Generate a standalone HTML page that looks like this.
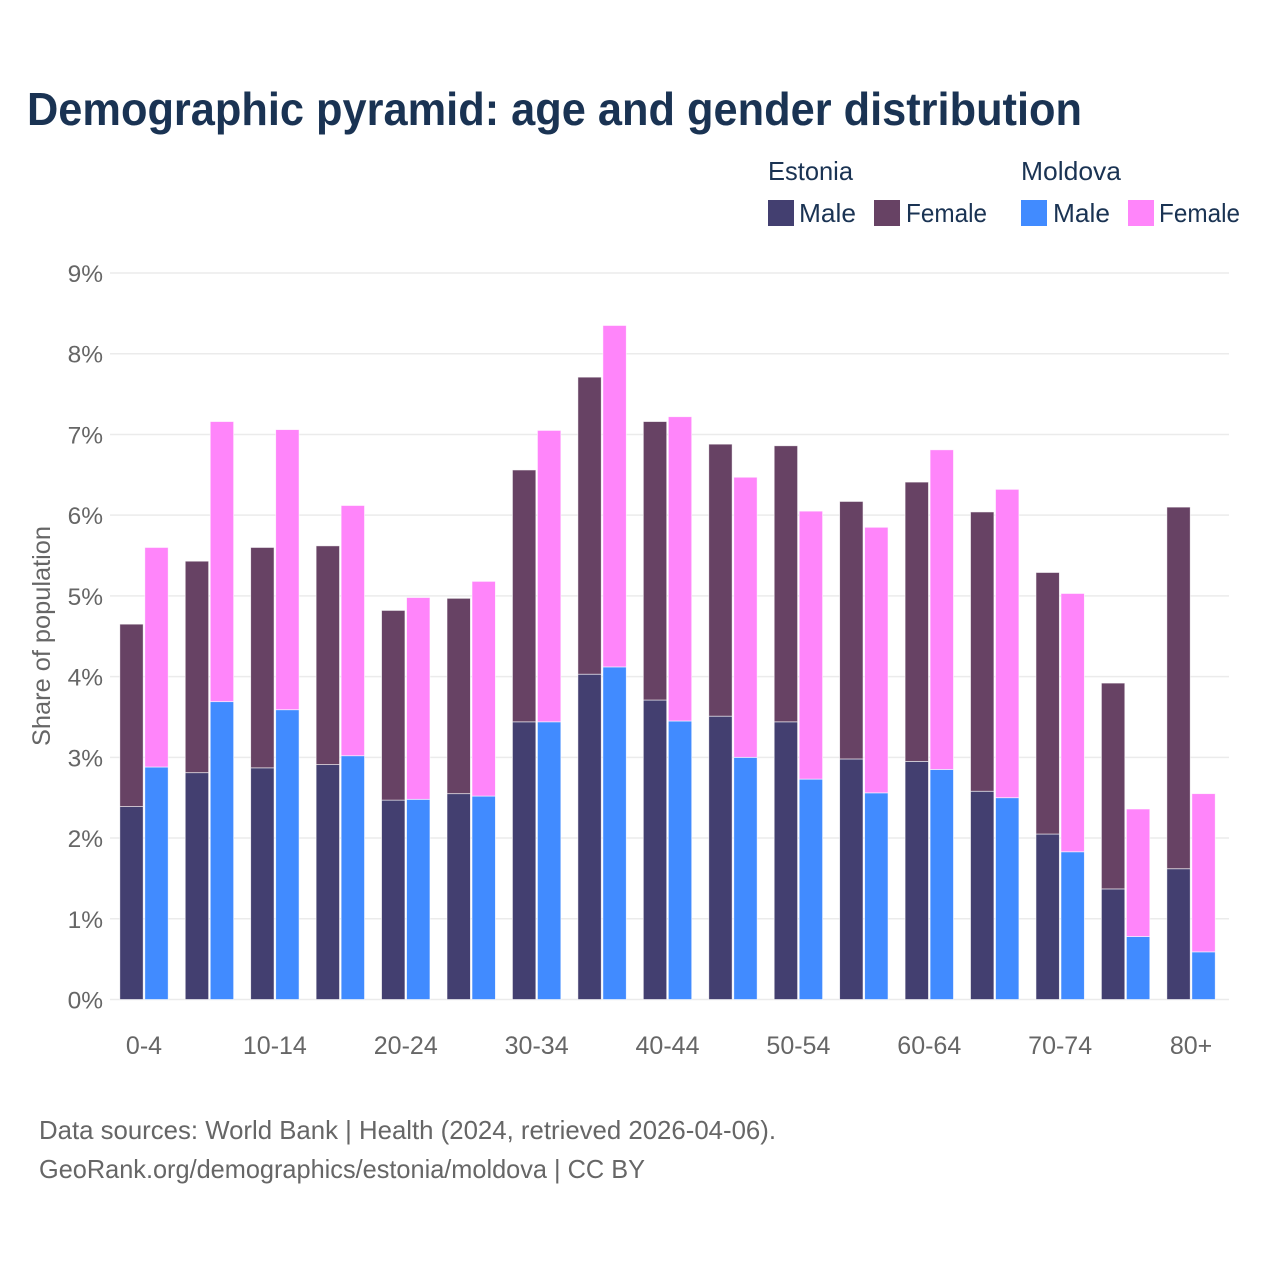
<!DOCTYPE html>
<html lang="en">
<head>
<meta charset="utf-8">
<title>Demographic pyramid</title>
<style>
html,body{margin:0;padding:0;background:#fff;width:1280px;height:1280px;overflow:hidden}
svg{display:block;font-family:"Liberation Sans",sans-serif}
</style>
</head>
<body>
<svg id="chart" width="1280" height="1280" viewBox="0 0 1280 1280" xmlns="http://www.w3.org/2000/svg">
<rect width="1280" height="1280" fill="#fff"/>
<text x="27" y="125" font-size="46" font-weight="700" fill="#1a3353" textLength="1055" lengthAdjust="spacingAndGlyphs">Demographic pyramid: age and gender distribution</text>
<g font-size="26" fill="#1a3353">
<text x="768" y="180" textLength="85" lengthAdjust="spacingAndGlyphs">Estonia</text>
<text x="1021" y="180" textLength="100" lengthAdjust="spacingAndGlyphs">Moldova</text>
<rect x="768" y="200" width="26" height="26" fill="#433f70"/>
<text x="799" y="222" textLength="57" lengthAdjust="spacingAndGlyphs">Male</text>
<rect x="874" y="200" width="26" height="26" fill="#674264"/>
<text x="906" y="222" textLength="81" lengthAdjust="spacingAndGlyphs">Female</text>
<rect x="1021" y="200" width="26" height="26" fill="#418bff"/>
<text x="1053" y="222" textLength="57" lengthAdjust="spacingAndGlyphs">Male</text>
<rect x="1128" y="200" width="26" height="26" fill="#ff85fa"/>
<text x="1159" y="222" textLength="81" lengthAdjust="spacingAndGlyphs">Female</text>
</g>
<g id="grid"></g>
<g id="ylabels"></g>
<g id="bars"></g>
<g id="xlabels"></g>
<text transform="translate(50 636) rotate(-90)" text-anchor="middle" font-size="25" fill="#666" textLength="220" lengthAdjust="spacingAndGlyphs">Share of population</text>
<text x="39" y="1139" font-size="26" fill="#666" textLength="737" lengthAdjust="spacingAndGlyphs">Data sources: World Bank | Health (2024, retrieved 2026-04-06).</text>
<text x="39" y="1178" font-size="26" fill="#666" textLength="606" lengthAdjust="spacingAndGlyphs">GeoRank.org/demographics/estonia/moldova | CC BY</text>
</svg>
<script>
const ageGroups = ['0-4','5-9','10-14','15-19','20-24','25-29','30-34','35-39','40-44','45-49','50-54','55-59','60-64','65-69','70-74','75-79','80+'];
const xTickLabels = ['0-4','','10-14','','20-24','','30-34','','40-44','','50-54','','60-64','','70-74','','80+'];
const yTicks = [0,1,2,3,4,5,6,7,8,9];
const estoniaMale = [2.39,2.81,2.87,2.91,2.47,2.55,3.44,4.03,3.71,3.51,3.44,2.98,2.95,2.58,2.05,1.37,1.62];
const estoniaFemale = [2.26,2.62,2.73,2.71,2.35,2.42,3.12,3.68,3.45,3.37,3.42,3.19,3.46,3.46,3.24,2.55,4.48];
const moldovaMale = [2.88,3.69,3.59,3.02,2.48,2.52,3.44,4.12,3.45,3.00,2.73,2.56,2.85,2.50,1.83,0.78,0.59];
const moldovaFemale = [2.72,3.47,3.47,3.10,2.50,2.66,3.61,4.23,3.77,3.47,3.32,3.29,3.96,3.82,3.20,1.58,1.96];

const NS = 'http://www.w3.org/2000/svg';
function yScale(v){ return 999.5 - v * 80.72; }
function xScale(i){ return 144 + i * 65.44; }
function make(tag, parent, attrs){
  const el = document.createElementNS(NS, tag);
  for (const k in attrs) el.setAttribute(k, attrs[k]);
  parent.appendChild(el);
  return el;
}
const grid = document.getElementById('grid');
const ylabels = document.getElementById('ylabels');
const xlabels = document.getElementById('xlabels');
const bars = document.getElementById('bars');

yTicks.forEach(function(t){
  const line = make('line', grid, {x1:110, x2:1229, y1:yScale(t), y2:yScale(t), stroke:'#ebebeb', 'stroke-width':1.5});
  
  
  const label = make('text', ylabels, {x:103, y:yScale(t)+9, 'text-anchor':'end', 'font-size':24.5, fill:'#666'});
  label.textContent = t + '%';
  
  
});

xTickLabels.forEach(function(t, i){
  if (!t) return;
  const label = make('text', xlabels, {x:xScale(i), y:1054, 'text-anchor':'middle', 'font-size':25, fill:'#666'});
  label.textContent = t;
  
  
});

function seg(x, base, value, color){
  const top = yScale(base + value);
  const r = make('rect', bars, {x:x, y:top, width:23.4, height:yScale(base)-top, fill:color, stroke:'#fff', 'stroke-width':0.8, 'stroke-opacity':0.7});
  return r;
}
ageGroups.forEach(function(g, i){
  const cx = xScale(i);
  const a = seg(cx-24.2, 0, estoniaMale[i], '#433f70');
  
  
  const b = seg(cx-24.2, estoniaMale[i], estoniaFemale[i], '#674264');
  
  
  const c = seg(cx+0.8, 0, moldovaMale[i], '#418bff');
  
  
  const d = seg(cx+0.8, moldovaMale[i], moldovaFemale[i], '#ff85fa');
  
  
});
</script>
</body>
</html>
